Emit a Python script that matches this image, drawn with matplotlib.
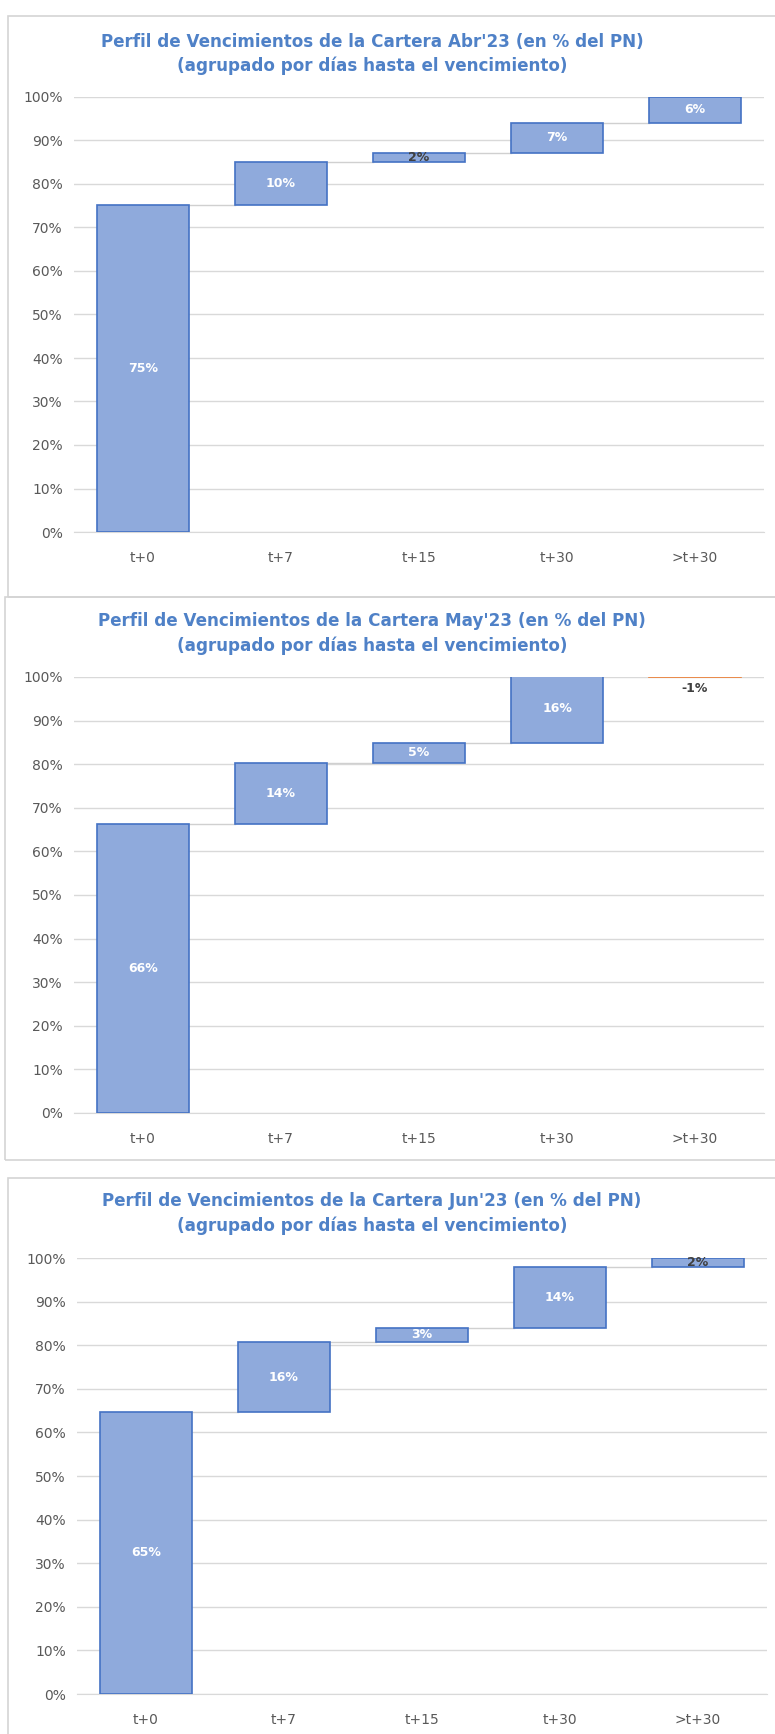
import numpy as np
import matplotlib
matplotlib.use("Agg")
import matplotlib.pyplot as plt
from matplotlib.patches import Rectangle
from matplotlib.ticker import PercentFormatter

cats = ["t+0", "t+7", "t+15", "t+30", ">t+30"]
months = ["Abr'23", "May'23", "Jun'23"]
abr = [75.1, 9.9, 2.2, 6.9, 5.9]
may = [66.3, 14.0, 4.6, 15.6, -0.6]
jun = [64.7, 16.0, 3.3, 14.0, 2.0]
series = [abr, may, jun]

W, H = 775, 1734
fig = plt.figure(figsize=(W / 100, H / 100), dpi=100)
fig.patch.set_facecolor("white")

# panel frames (pixels: x0, y0 top, x1, y1 bottom)
frames = [(8, 16, 800, 597), (5, 597, 800, 1160), (8, 1178, 800, 1760)]
for x0, y0, x1, y1 in frames:
    fig.patches.append(Rectangle((x0 / W, 1 - y1 / H), (x1 - x0) / W, (y1 - y0) / H,
                                 transform=fig.transFigure, facecolor="none",
                                 edgecolor="#d4d4d4", linewidth=1.2, zorder=-1))

# axes placement: left px, zero px, top px
axpos = [(74, 532, 97), (74, 1113, 677), (77, 1694, 1258)]
titles_y = [(42, 66), (621, 646), (1201, 1226)]

fill = "#8faadc"
edge = "#4472c4"
neg = "#ed7d31"
title_c = "#4f81c7"
grey = "#595959"

for vals, month, (lx, zy, ty), (t1, t2) in zip(series, months, axpos, titles_y):
    ax = fig.add_axes([lx / W, 1 - zy / H, 690 / W, (zy - ty) / H])
    x = np.arange(len(cats))
    cum = np.cumsum([0] + vals[:-1])
    bottoms = [c + v if v < 0 else c for c, v in zip(cum, vals)]
    heights = [abs(v) for v in vals]
    edges = [edge if v >= 0 else neg for v in vals]
    w = 0.67
    ax.bar(x, heights, bottom=bottoms, width=w, color=fill, edgecolor=edges,
           linewidth=1.2, zorder=3)
    ends = np.cumsum(vals)
    for i in range(len(vals) - 1):
        ax.plot([x[i] + w / 2, x[i + 1] - w / 2], [ends[i], ends[i]],
                color="#d0d0d0", linewidth=1, zorder=2)
    for i, v in enumerate(vals):
        lbl = "%d%%" % int(np.floor(abs(v) + 0.5) * np.sign(v))
        if v < 0:
            ax.text(x[i], bottoms[i] - 1.0, lbl, ha="center", va="top",
                    fontsize=9, fontweight="bold", color="#404040", zorder=4)
        else:
            c = "#404040" if abs(v) < 2.5 else "white"
            ax.text(x[i], bottoms[i] + v / 2, lbl, ha="center", va="center",
                    fontsize=9, fontweight="bold", color=c, zorder=4)
    ax.set_ylim(0, 100)
    ax.set_xlim(-0.5, len(cats) - 0.5)
    ax.set_yticks(np.arange(0, 101, 10))
    ax.yaxis.set_major_formatter(PercentFormatter(decimals=0))
    ax.set_xticks(x)
    ax.set_xticklabels(cats)
    ax.grid(axis="y", color="#d9d9d9", linewidth=1, zorder=0)
    ax.set_axisbelow(True)
    for s in ["top", "right", "left"]:
        ax.spines[s].set_visible(False)
    ax.spines["bottom"].set_color("#d9d9d9")
    ax.tick_params(axis="both", length=0, labelsize=10, labelcolor=grey)
    ax.tick_params(axis="x", pad=14)
    ax.tick_params(axis="y", pad=8)
    fig.text(372 / W, 1 - t1 / H, "Perfil de Vencimientos de la Cartera %s (en %% del PN)" % month,
             ha="center", va="center", fontsize=12.1, fontweight="bold",
             color=title_c)
    fig.text(372 / W, 1 - t2 / H, "(agrupado por días hasta el vencimiento)",
             ha="center", va="center", fontsize=12.1, fontweight="bold",
             color=title_c)

fig.savefig("out.png", dpi=100)
